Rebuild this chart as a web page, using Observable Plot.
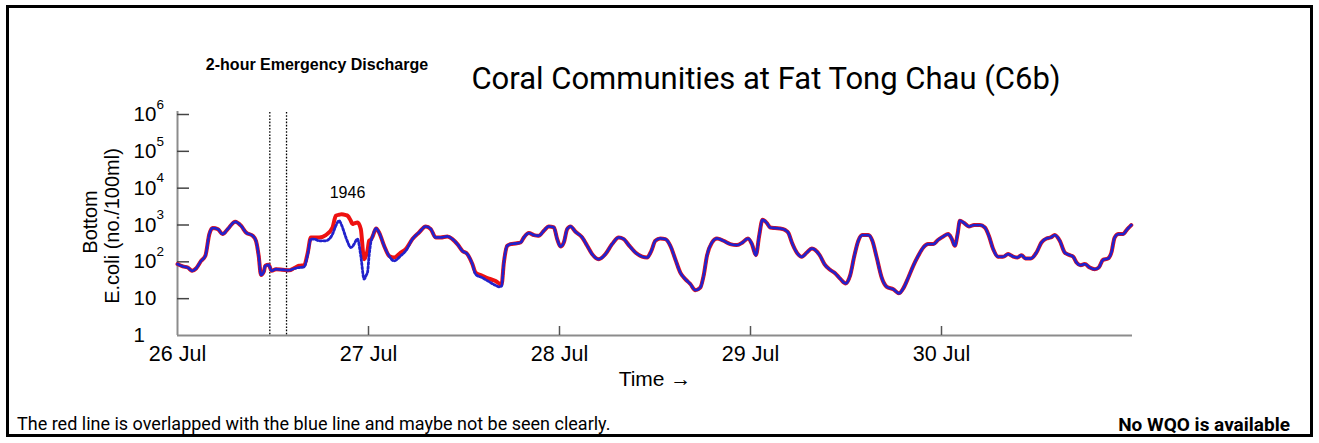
<!DOCTYPE html>
<html>
<head>
<meta charset="utf-8">
<script src="https://cdn.jsdelivr.net/npm/d3@7"></script>
<script src="https://cdn.jsdelivr.net/npm/@observablehq/plot@0.6"></script>
<style>
  body { margin: 0; background: #fff; }
  #wrap { position: relative; width: 1319px; height: 443px; overflow: hidden; background: #fff; }
  #frame { position: absolute; left: 6px; top: 5px; width: 1307px; height: 432px; border: 3px solid #000; box-sizing: border-box; pointer-events: none; }
  .lbl { position: absolute; white-space: nowrap; line-height: 1; color: #000; }
  #title { left: 766px; top: 78px; transform: translate(-50%, -50%); font-family: Roboto, "Open Sans", sans-serif; font-size: 31px; }
  #note { left: 317px; top: 65px; transform: translate(-50%, -50%); font-family: "Liberation Sans", Arial, sans-serif; font-weight: bold; font-size: 16px; }
  #foot1 { left: 17px; top: 424px; transform: translate(0, -50%); font-family: Roboto, sans-serif; font-size: 18px; }
  #foot2 { right: 29px; top: 424px; transform: translate(0, -50%); font-family: Roboto, sans-serif; font-weight: bold; font-size: 19px; }
  #chart { position: absolute; left: 0; top: 0; }
</style>
</head>
<body>
<div id="wrap">
  <div id="chart"></div>
  <div class="lbl" id="title"></div>
  <div class="lbl" id="note"></div>
  <div class="lbl" id="foot1"></div>
  <div class="lbl" id="foot2"></div>
  <div id="frame"></div>
</div>
<script>
// ---- Data (hours after 26 Jul 00:00) ----
const hours = [
  0.0, 0.66, 1.29, 1.83, 2.33, 2.96, 3.50, 4.00, 4.43, 5.06,
  5.68, 6.31, 7.26, 7.98, 8.61, 9.45, 9.86, 10.20, 10.49, 10.83,
  11.03, 11.45, 11.83, 12.37, 13.21, 14.04, 14.67, 15.29, 15.92, 16.35,
  16.76, 17.18, 17.80, 18.64, 19.48, 19.90, 20.31, 20.61, 21.16, 21.37,
  21.78, 21.99, 22.19, 22.62, 23.03, 23.45, 23.75, 23.87, 24.08, 24.29,
  24.50, 24.96, 25.33, 25.96, 26.58, 27.21, 28.05, 28.68, 29.52, 30.35,
  31.19, 31.82, 32.44, 33.07, 33.91, 34.54, 35.17, 35.79, 36.42, 37.05,
  37.46, 38.30, 39.13, 39.97, 40.39, 40.72, 41.01, 41.44, 41.85, 42.48,
  43.11, 43.52, 44.15, 44.78, 45.40, 46.03, 46.66, 47.29, 47.71, 48.13,
  48.54, 48.97, 49.38, 50.01, 50.85, 51.48, 52.10, 52.93, 53.77, 54.61,
  55.44, 56.07, 56.70, 57.54, 58.38, 59.00, 59.54, 60.04, 60.67, 61.30,
  61.93, 62.55, 63.18, 63.81, 64.44, 65.06, 65.69, 66.11, 66.53, 67.16,
  67.79, 68.61, 69.45, 70.30, 71.00, 71.68, 72.18, 72.68, 73.09, 73.51,
  74.06, 74.47, 75.10, 75.73, 76.36, 76.77, 77.20, 77.82, 78.45, 79.08,
  79.71, 80.12, 80.74, 81.29, 82.00, 82.63, 83.26, 83.97, 84.51, 85.05,
  85.55, 86.05, 86.81, 87.31, 87.86, 88.49, 89.12, 89.94, 90.66, 91.20,
  91.82, 92.45, 93.08, 93.71, 94.33, 94.96, 95.59, 96.22, 96.84, 97.27,
  97.68, 98.02, 98.31, 98.85, 99.44, 100.10, 100.82, 101.45, 101.95, 102.49,
  103.12, 103.74, 104.37, 105.00, 105.55, 106.05, 106.55, 107.22, 107.93, 108.56,
  109.19, 109.73, 110.23, 110.86, 111.49, 112.11, 112.53, 112.96, 113.50, 114.00,
  114.63, 115.26, 115.76, 116.29, 116.92, 117.35, 117.76, 118.26, 118.80, 119.35,
  119.85
];
// Blue dotted series (E. coli, no./100ml)
const blueValues = [
  87, 75, 70, 57, 66, 106, 146, 567, 826, 776,
  567, 776, 1225, 955, 627, 510, 373, 146, 44, 53,
  78, 83, 57, 63, 61, 59, 66, 70, 73, 155,
  415, 415, 373, 373, 567, 955, 1306, 1000, 459, 350,
  245, 260, 303, 415, 146, 34, 45, 51, 150, 335,
  480, 806, 627, 273, 146, 106, 146, 199, 415, 627,
  914, 776, 459, 459, 488, 415, 303, 199, 162, 87,
  46, 37, 29, 23, 21, 22, 96, 273, 303, 315,
  335, 459, 604, 533, 510, 698, 914, 858, 415, 261,
  335, 776, 914, 655, 459, 273, 162, 118, 162, 303,
  459, 415, 285, 179, 139, 131, 199, 373, 431, 415,
  273, 118, 51, 34, 25, 17, 20, 42, 146, 335,
  431, 373, 303, 285, 335, 431, 303, 152, 510, 1390,
  1130, 858, 826, 806, 729, 604, 335, 179, 137, 179,
  230, 210, 146, 87, 61, 49, 35, 26, 42, 146,
  373, 533, 533, 373, 131, 37, 21, 18, 14, 19,
  37, 78, 146, 245, 303, 303, 397, 488, 567, 431,
  273, 567, 1306, 1130, 914, 997, 997, 858, 510, 222,
  137, 137, 162, 139, 131, 152, 123, 123, 179, 335,
  431, 459, 533, 373, 179, 152, 139, 96, 81, 87,
  70, 63, 70, 113, 123, 179, 459, 567, 567, 776,
  997
];
// Red solid series (E. coli, no./100ml)
const redValues = [
  87, 75, 70, 57, 66, 106, 146, 567, 826, 776,
  567, 776, 1225, 955, 627, 510, 373, 146, 44, 53,
  78, 83, 57, 63, 61, 59, 68, 78, 81, 170,
  459, 459, 459, 533, 858, 1786, 1900, 1946, 1850, 1786,
  1300, 1061, 1100, 1173, 776, 118, 162, 200, 373, 400,
  480, 806, 627, 273, 146, 131, 179, 222, 415, 627,
  914, 776, 459, 459, 488, 415, 303, 199, 162, 87,
  51, 42, 35, 30, 26, 24, 96, 273, 303, 315,
  335, 459, 604, 533, 510, 698, 914, 858, 415, 261,
  335, 776, 914, 655, 459, 273, 162, 118, 162, 303,
  459, 415, 285, 179, 139, 131, 199, 373, 431, 415,
  273, 118, 51, 34, 25, 17, 20, 42, 146, 335,
  431, 373, 303, 285, 335, 431, 303, 152, 510, 1390,
  1130, 858, 826, 806, 729, 604, 335, 179, 137, 179,
  230, 210, 146, 87, 61, 49, 35, 26, 42, 146,
  373, 533, 533, 373, 131, 37, 21, 18, 14, 19,
  37, 78, 146, 245, 303, 303, 397, 488, 567, 431,
  273, 567, 1306, 1130, 914, 997, 997, 858, 510, 222,
  137, 137, 162, 139, 131, 152, 123, 123, 179, 335,
  431, 459, 533, 373, 179, 152, 139, 96, 81, 87,
  70, 63, 70, 113, 123, 179, 459, 567, 567, 776,
  997
];
const dayTicks = [26, 27, 28, 29, 30];          // July
const dischargeHours = [11.6, 13.7];            // 2-hour emergency discharge window
const yTickValues = [1, 10, 100, 1000, 10000, 100000, 1000000];
const yTickBase = ["1", "10", "10", "10", "10", "10", "10"];
const yTickExp = ["", "", "2", "3", "4", "5", "6"];
const titleText = "Coral Communities at Fat Tong Chau (C6b)";
const noteText = "2-hour Emergency Discharge";
const yLabelLines = ["Bottom", "E.coli (no./100ml)"];
const xLabelText = "Time \u2192";
const footLeft = "The red line is overlapped with the blue line and maybe not be seen clearly.";
const footRight = "No WQO is available";

// ---- Build ----
const t0 = Date.UTC(2024, 6, 26);
const toDate = h => new Date(t0 + h * 3600e3);
const blue = hours.map((h, i) => ({t: toDate(h), v: blueValues[i]}));
const red = hours.map((h, i) => ({t: toDate(h), v: redValues[i]}));
const peak = red.reduce((a, b) => (b.v > a.v ? b : a));
const dayDates = dayTicks.map(d => new Date(Date.UTC(2024, 6, d)));

const W = 1319, H = 443, ML = 177, MR = 187, MT = 114, MB = 108;
const plotW = W - ML - MR, plotH = H - MT - MB;
const axisGrey = "#8c8c8c";

const chart = Plot.plot({
  width: W, height: H,
  marginLeft: ML, marginRight: MR, marginTop: MT, marginBottom: MB,
  style: {fontFamily: "'Liberation Sans', Arial, sans-serif", background: "transparent", color: "#000"},
  x: {type: "utc", domain: [toDate(0), toDate(120)], axis: null},
  y: {type: "log", domain: [1, 1e6], axis: null},
  marks: [
    // discharge window
    Plot.ruleX(dischargeHours.map(toDate), {stroke: "#000", strokeWidth: 1.3, strokeDasharray: "1.6,1.6", insetTop: -2}),
    // axes lines
    Plot.ruleX([toDate(0)], {stroke: axisGrey, strokeWidth: 2, insetTop: -3}),
    Plot.ruleY([1], {stroke: axisGrey, strokeWidth: 2}),
    // inward ticks
    Plot.tickY(yTickValues.slice(1), {y: d => d, stroke: "#444", strokeWidth: 1.5, insetRight: plotW - 12}),
    Plot.tickX(dayDates.slice(1), {x: d => d, stroke: "#555", strokeWidth: 1.5, insetTop: plotH - 9}),
    // series
    Plot.line(red, {x: "t", y: "v", stroke: "#ee1111", strokeWidth: 4, curve: "monotone-x"}),
    Plot.line(blue, {x: "t", y: "v", stroke: "#2222cc", strokeWidth: 2.8, strokeDasharray: "2,2", curve: "monotone-x"}),
    // peak label
    Plot.text([peak], {x: "t", y: "v", text: d => String(d.v), dy: -21, dx: 6, fontSize: 16}),
    // y tick labels
    Plot.text(yTickValues, {y: d => d, text: (d, i) => yTickBase[i], frameAnchor: "left", textAnchor: "start", lineAnchor: "middle", dx: -44, fontSize: 20.5}),
    Plot.text(yTickValues, {y: d => d, text: (d, i) => yTickExp[i], frameAnchor: "left", textAnchor: "start", lineAnchor: "middle", dx: -21, dy: -10, fontSize: 13.5}),
    // x tick labels
    Plot.text(dayDates, {x: d => d, text: d => d3.utcFormat("%-d %b")(d), frameAnchor: "bottom", textAnchor: "middle", lineAnchor: "middle", dy: 19, fontSize: 21.5}),
    // axis titles
    Plot.text([yLabelLines[0]], {text: d => d, frameAnchor: "left", textAnchor: "middle", lineAnchor: "middle", dx: -87, dy: -3, rotate: -90, fontSize: 20}),
    Plot.text([yLabelLines[1]], {text: d => d, frameAnchor: "left", textAnchor: "middle", lineAnchor: "middle", dx: -65, dy: 1, rotate: -90, fontSize: 20}),
    Plot.text([xLabelText], {text: d => d, frameAnchor: "bottom", textAnchor: "middle", lineAnchor: "middle", dy: 44, fontSize: 21})
  ]
});
document.getElementById("chart").appendChild(chart);
document.getElementById("title").textContent = titleText;
document.getElementById("note").textContent = noteText;
document.getElementById("foot1").textContent = footLeft;
document.getElementById("foot2").textContent = footRight;
</script>
</body>
</html>
